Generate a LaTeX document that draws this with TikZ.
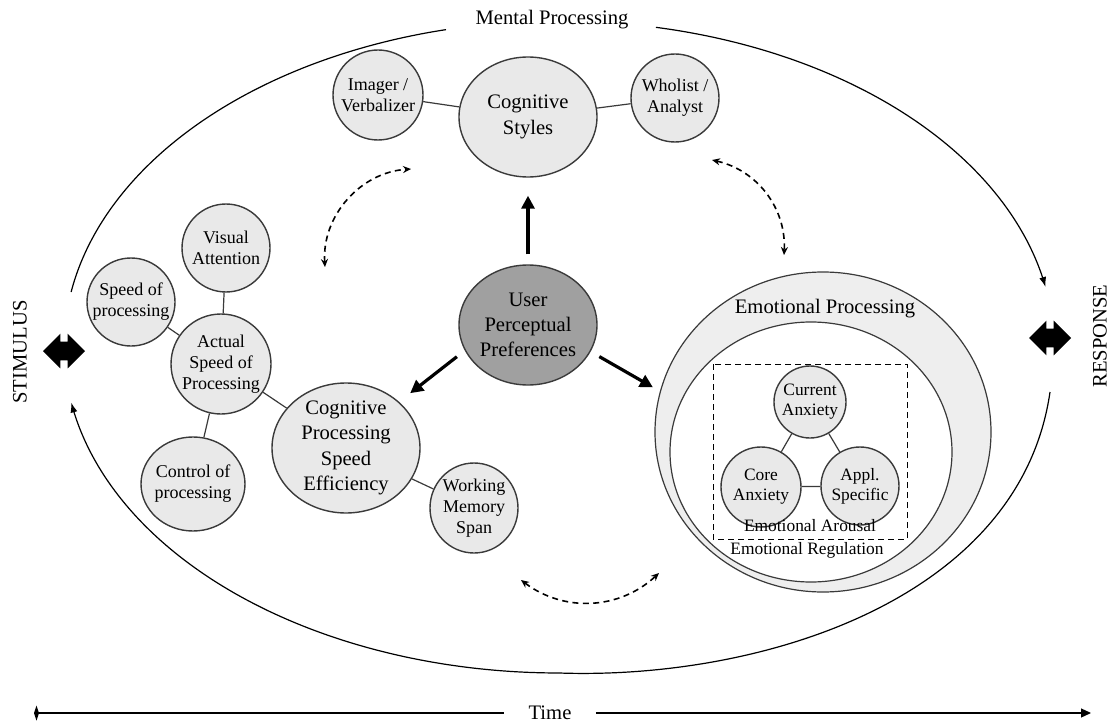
\documentclass[tikz,border=0pt]{standalone}
\usepackage{fontspec}
\setmainfont{Liberation Serif}
\usetikzlibrary{shapes.geometric,shapes.arrows,arrows.meta}

\definecolor{ballgray}{HTML}{E9E9E9}
\definecolor{darkball}{HTML}{A0A0A0}
\definecolor{ringgray}{HTML}{EEEEEE}
\definecolor{edgegray}{HTML}{3A3A3A}

\begin{document}
\begin{tikzpicture}[x=0.5pt, y=-0.5pt,
		ball/.style={ellipse, draw=edgegray, line width=0.7pt, fill=ballgray, inner sep=-8pt, align=center, font=\fontsize{9}{10.5}\selectfont},
		bigball/.style={ball, font=\fontsize{10.3}{12.6}\selectfont},
		link/.style={draw=edgegray, line width=0.6pt},
		push/.style={line width=1.6pt, -{Triangle[length=6.5pt,width=6.5pt]}},
		loopy/.style={line width=0.8pt, dash pattern=on 3pt off 2.2pt, {Stealth[length=4pt,width=3.5pt]}-{Stealth[length=4pt,width=3.5pt]}},
		fatarrow/.style={double arrow, fill=black, inner sep=4.5pt, double arrow head extend=4pt, minimum height=21pt},
		lbl/.style={font=\fontsize{10.3}{12.6}\selectfont},
		sublbl/.style={font=\fontsize{8.7}{10}\selectfont}]
				\useasboundingbox (0,0) rectangle (1109,722);

				\draw[line width=0.6pt] plot[domain=189.7:256.8, samples=50, smooth] ({559+495*cos(\x)}, {347+326*sin(\x)});
				\draw[line width=0.6pt, -{Latex[length=5pt,width=3.5pt]}] plot[domain=281.3:349.4, samples=50, smooth] ({559+495*cos(\x)}, {347+326*sin(\x)});
				\draw[line width=0.6pt, -{Latex[length=5pt,width=3.5pt]}] (1050,392) .. controls (1020,600) and (760,680) .. (559,673)
					-- plot[domain=90:170.2, samples=50, smooth] ({559+495*cos(\x)}, {347+326*sin(\x)});
				\node[lbl] (mental) at (552,20) {Mental Processing};

				\node[lbl, rotate=90] (stim) at (20,352) {STIMULUS};
				\node[fatarrow] (stimarrow) at (64,351) {};
				\node[lbl, rotate=90] (resp) at (1100,336) {RESPONSE};
				\node[fatarrow] (resparrow) at (1050,338) {};

				\node[bigball, minimum width=69pt, minimum height=60pt] (cogsty) at (528,117) {Cognitive\\Styles};
				\node[ball, minimum size=45pt] (imager) at (378,95) {Imager /\\Verbalizer};
				\node[ball, minimum size=44pt] (wholist) at (675,98) {Wholist /\\Analyst};
				\draw[link] (imager) -- (cogsty);
				\draw[link] (cogsty) -- (wholist);

				\node[bigball, fill=darkball, minimum width=69pt, minimum height=60pt] (upp) at (528,325) {User\\Perceptual\\Preferences};

				\node[ball, minimum size=44pt] (visatt) at (226,248) {Visual\\Attention};
				\node[ball, minimum size=44pt] (speedp) at (131,302) {Speed of\\processing};
				\node[ball, minimum size=50pt] (actual) at (221,364) {Actual\\Speed of\\Processing};
				\node[ball, minimum width=52pt, minimum height=47pt] (control) at (193,484) {Control of\\processing};
				\node[bigball, minimum width=74pt, minimum height=65pt] (cpse) at (346,448) {Cognitive\\Processing\\Speed\\Efficiency};
				\node[ball, minimum width=44pt, minimum height=45pt] (wms) at (474,508) {Working\\Memory\\Span};
				\draw[link] (visatt) -- (actual);
				\draw[link] (speedp) -- (actual);
				\draw[link] (actual) -- (control);
				\draw[link] (actual) -- (cpse);
				\draw[link] (cpse) -- (wms);

				\node[ellipse, draw=edgegray, line width=0.6pt, fill=ringgray, minimum width=168pt, minimum height=160pt] (emo) at (823,432) {};
				\node[ellipse, draw=edgegray, line width=0.6pt, fill=white, minimum width=141pt, minimum height=130pt] (reg) at (811,452) {};
				\node[lbl] (emolbl) at (825,309) {Emotional Processing};
				\draw[line width=0.5pt, dash pattern=on 3pt off 2pt] (713,364) rectangle (907,539);
				\node[ball, font=\fontsize{8.7}{10}\selectfont, minimum size=36pt] (curanx) at (810,402) {Current\\Anxiety};
				\node[ball, font=\fontsize{8.7}{10}\selectfont, minimum size=40pt] (coreanx) at (761,487) {Core\\Anxiety};
				\node[ball, font=\fontsize{8.7}{10}\selectfont, minimum size=39pt] (appl) at (860,486) {Appl.\\Specific};
				\draw[link] (curanx) -- (coreanx);
				\draw[link] (curanx) -- (appl);
				\draw[link] (coreanx) -- (appl);
				\node[sublbl] (arousal) at (810,526) {Emotional Arousal};
				\node[sublbl] (regul) at (807,550) {Emotional Regulation};

				\draw[push, shorten <=5pt, shorten >=9pt] (upp) -- (cogsty);
				\draw[push, shorten <=5pt, shorten >=7pt] (upp.202) -- (cpse.41);
				\draw[push, shorten <=5pt, shorten >=4pt] (upp.337) -- (emo.166);

				\coordinate (la) at (325,267);
				\coordinate (lb) at (411,169);
				\coordinate (ra) at (712,160);
				\coordinate (rb) at (784,255);
				\coordinate (ba) at (521,580);
				\coordinate (bb) at (659,573);
				\draw[loopy] (la) to[bend left=45] (lb);
				\draw[loopy] (ra) to[bend left=40] (rb);
				\draw[loopy] (ba) to[bend right=40] (bb);

				\node[lbl, inner xsep=12pt] (time) at (550,713) {Time};
				\coordinate (tl) at (34,713);
				\coordinate (tr) at (1091,713);
				\draw[line width=0.6pt, {Diamond[length=2.5pt,width=7.5pt]}-] (tl) -- (time);
				\draw[line width=0.6pt, -{Triangle[length=5pt,width=4.5pt]}] (time) -- (tr);

			\end{tikzpicture}
\end{document}
